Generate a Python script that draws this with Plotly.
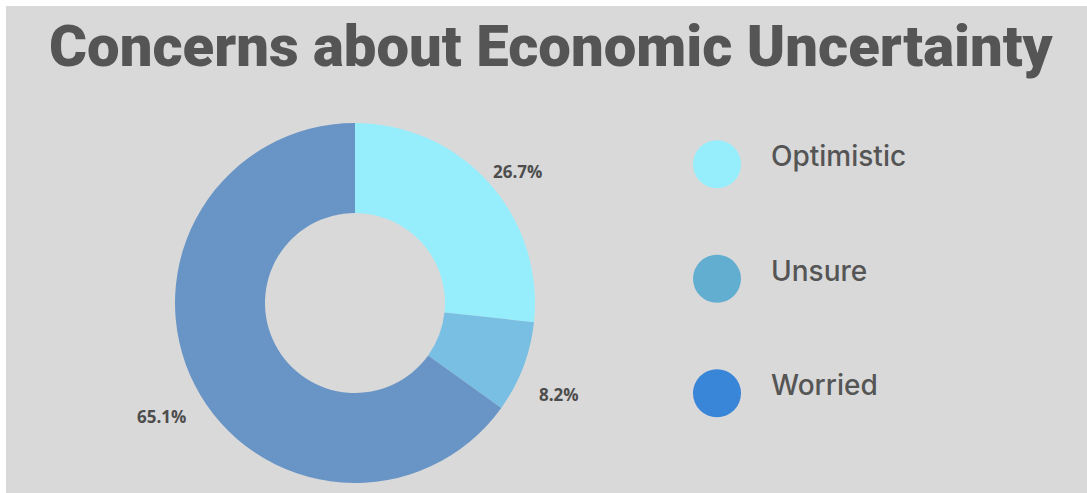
import math
import plotly.graph_objects as go

categories = ["Optimistic", "Unsure", "Worried"]
values = [26.7, 8.2, 65.1]
slice_colors = ["#96EEFD", "#78BFE3", "#6895C5"]
legend_colors = ["#96EEFD", "#62AED0", "#3985D7"]
title_text = "Concerns about Economic Uncertainty"

W, H = 1087, 493
CX, CY, R = 355, 303, 180
LABEL_R = 218

fig = go.Figure()

fig.add_trace(go.Pie(
    labels=categories,
    values=values,
    hole=0.5,
    sort=False,
    direction="clockwise",
    rotation=0,
    marker=dict(colors=slice_colors, line=dict(width=0)),
    textinfo="none",
    showlegend=False,
    hoverinfo="label+percent",
    domain=dict(x=[(CX - R) / W, (CX + R) / W],
                y=[(H - CY - R) / H, (H - CY + R) / H]),
))

# percentage labels placed at each slice's mid-angle
annotations = []
total = sum(values)
cum = 0.0
for v in values:
    mid = (cum + v / 2) / total * 2 * math.pi
    cum += v
    px = CX + LABEL_R * math.sin(mid)
    py = CY - LABEL_R * math.cos(mid) + 14
    annotations.append(dict(
        text=f"{v:.1f}%", xref="paper", yref="paper",
        x=px / W, y=1 - py / H, xanchor="center", yanchor="middle",
        showarrow=False,
        font=dict(family="Open Sans", size=17, color="#4d4d4d", weight="bold")))

# custom legend
fig.add_trace(go.Scatter(
    x=[0] * len(categories), y=categories, mode="markers",
    marker=dict(size=48, color=legend_colors, line=dict(width=0)),
    xaxis="x", yaxis="y", showlegend=False, hoverinfo="skip",
))
for c in categories:
    annotations.append(dict(
        text=c, xref="x", yref="y", x=1, y=c, xanchor="left", yanchor="middle",
        yshift=8, showarrow=False,
        font=dict(family="Inter", size=28, color="#555555", weight=500)))

annotations.append(dict(
    text=title_text, xref="paper", yref="paper",
    x=551 / W, y=1 - 46 / H, xanchor="center", yanchor="middle",
    showarrow=False,
    font=dict(family="Roboto", size=58, color="#555555", weight=900)))

fig.update_layout(
    width=W, height=H,
    margin=dict(l=0, r=0, t=0, b=0),
    paper_bgcolor="white",
    plot_bgcolor="rgba(0,0,0,0)",
    shapes=[dict(type="rect", xref="paper", yref="paper",
                 x0=6 / W, x1=1, y0=0, y1=1 - 6 / H,
                 fillcolor="#D9D9D9", line=dict(width=0), layer="below")],
    annotations=annotations,
    # legend axis: x=0 at circle centre (717px), x=1 at label start (769px)
    xaxis=dict(domain=[0, 1], range=[-717 / 52, (W - 717) / 52],
               visible=False, fixedrange=True),
    yaxis=dict(domain=[1 - 450.5 / H, 1 - 107 / H], range=[2.5, -0.5],
               type="category", categoryorder="array", categoryarray=categories,
               visible=False, fixedrange=True),
)

fig.write_html("out.html", config={"displayModeBar": False},
               post_script="document.body.style.margin='0px';")
